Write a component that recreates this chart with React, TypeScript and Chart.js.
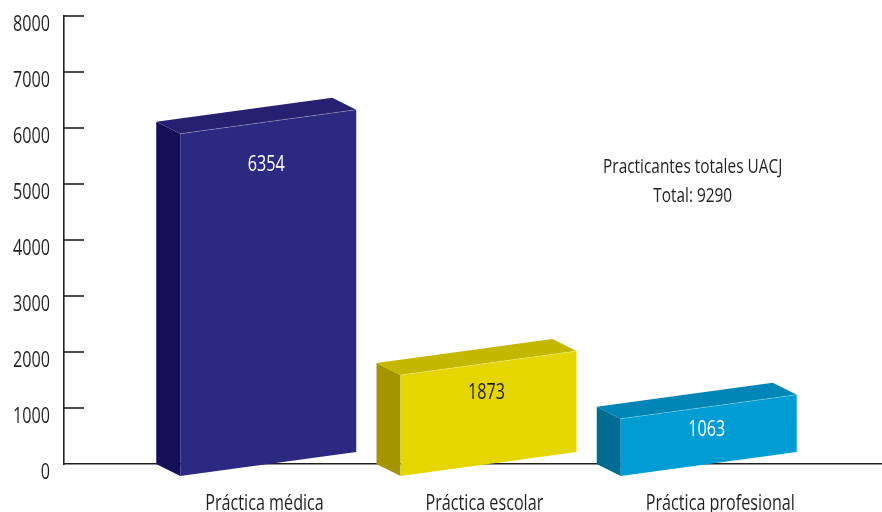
import React, { useEffect, useRef } from "react";
import { Chart, registerables } from "chart.js";

Chart.register(...registerables);

// ---------- data ----------
const categories = ["Práctica médica", "Práctica escolar", "Práctica profesional"];
const values = [6354, 1873, 1063];
const yTickValues = [0, 1000, 2000, 3000, 4000, 5000, 6000, 7000, 8000];
const noteTitle = "Practicantes totales UACJ";
const noteTotalPrefix = "Total: ";

// ---------- styles ----------
const FONT = '"Open Sans", "Noto Sans", "DejaVu Sans", sans-serif';
const SX = 0.77; // horizontal condensing of the text
const INK = "#231f20";
const faceColors = [
  { front: "#2b2a80", side: "#150f58", top: "#25206f", label: "#ffffff" },
  { front: "#e5d600", side: "#a29500", top: "#c4b700", label: "#231f20" },
  { front: "#009dd4", side: "#006b93", top: "#0086b6", label: "#ffffff" },
];
const SIDE = 24; // depth in x
const SKEW = 12; // front lower than back
const TILT = 24; // right side higher than left
const HEIGHT_SCALE = 0.962;
const X_MIN = 0.12727;
const X_MAX = 3.8409;

function drawText(ctx: CanvasRenderingContext2D, text: string, x: number, y: number, align: CanvasTextAlign, size: number, color: string) {
  ctx.save();
  ctx.translate(x, y);
  ctx.scale(SX, 1);
  ctx.font = `${size}px ${FONT}`;
  ctx.fillStyle = color;
  ctx.textAlign = align;
  ctx.textBaseline = "alphabetic";
  ctx.fillText(text, 0, 0);
  ctx.restore();
}

const boxPlugin = {
  id: "box3d",
  afterDatasetsDraw(chart: any) {
    const ctx = chart.ctx;
    const yScale = chart.scales.y;
    const xScale = chart.scales.x;
    const area = chart.chartArea;

    // inward tick marks and labels on the y axis
    ctx.save();
    ctx.strokeStyle = INK;
    ctx.lineWidth = 1.6;
    yTickValues.forEach((v) => {
      const py = yScale.getPixelForValue(v);
      if (v !== 0) {
        ctx.beginPath();
        ctx.moveTo(area.left, py);
        ctx.lineTo(area.left + 20, py);
        ctx.stroke();
      }
      drawText(ctx, String(v), area.left - 14, py + 15.2, "right", 21, INK);
    });
    ctx.restore();

    // category labels
    categories.forEach((c, i) => {
      const px = xScale.getPixelForValue(i + 1);
      drawText(ctx, c, px - 51, area.bottom + 45.5, "left", 21, INK);
    });

    const meta = chart.getDatasetMeta(0);
    meta.data.forEach((el: any, i: number) => {
      const { x, y, base, width } = el.getProps(["x", "y", "base", "width"], true);
      const c = faceColors[i % faceColors.length];
      const H = (base - y) * HEIGHT_SCALE;
      const L = x - width / 2;
      const R = L + width;
      const blb = [L, base];
      const blt = [L, base - H];
      const flt = [L + SIDE, base + SKEW - H];
      const flb = [L + SIDE, base + SKEW];
      const frt = [R, base + SKEW - TILT - H];
      const frb = [R, base + SKEW - TILT];
      const brt = [R - SIDE, base - TILT - H];
      const poly = (pts: number[][], fill: string) => {
        ctx.beginPath();
        ctx.moveTo(pts[0][0], pts[0][1]);
        for (let k = 1; k < pts.length; k++) ctx.lineTo(pts[k][0], pts[k][1]);
        ctx.closePath();
        ctx.fillStyle = fill;
        ctx.fill();
      };
      ctx.save();
      poly([blt, flt, flb, blb], c.side);
      poly([blt, brt, frt, flt], c.top);
      poly([flt, frt, frb, flb], c.front);
      ctx.strokeStyle = "rgba(255,255,255,0.3)";
      ctx.lineWidth = 0.8;
      ctx.beginPath();
      ctx.moveTo(flt[0], flt[1]);
      ctx.lineTo(frt[0], frt[1]);
      ctx.stroke();
      ctx.restore();

      // value label
      const lx = x + 10;
      const frac = (lx - flt[0]) / (frt[0] - flt[0]);
      const topAt = flt[1] + (frt[1] - flt[1]) * frac;
      const ly = topAt + 11.24 * Math.log(Math.max(H, 20)) - 23.9;
      drawText(ctx, String(values[i]), lx, ly + 7.5, "center", 21, c.label);
    });

    // note
    const total = values.reduce((a, b) => a + b, 0);
    drawText(ctx, noteTitle, 692.7, 172.7, "center", 20, INK);
    drawText(ctx, noteTotalPrefix + total, 692.7, 202.4, "center", 20, INK);
  },
};

export default function App() {
  const ref = useRef<HTMLCanvasElement | null>(null);
  useEffect(() => {
    if (!ref.current) return;
    const chart = new Chart(ref.current, {
      type: "bar",
      data: {
        datasets: [
          {
            data: values.map((v, i) => ({ x: i + 1, y: v })),
            backgroundColor: "rgba(0,0,0,0)",
            borderWidth: 0,
            barThickness: 200,
          },
        ],
      },
      options: {
        animation: false,
        responsive: false,
        devicePixelRatio: 1,
        layout: { padding: { top: 16, left: 0, right: 0, bottom: 0 } },
        plugins: { legend: { display: false }, tooltip: { enabled: false } },
        scales: {
          x: {
            type: "linear",
            min: X_MIN,
            max: X_MAX,
            offset: false,
            bounds: "data",
            grid: { display: false, drawTicks: false },
            border: { display: true, color: INK, width: 1.6 },
            afterDataLimits: (scale: any) => {
              scale.min = X_MIN;
              scale.max = X_MAX;
            },
            afterBuildTicks: (scale: any) => {
              scale.ticks = categories.map((_, i) => ({ value: i + 1 }));
              scale.min = X_MIN;
              scale.max = X_MAX;
            },
            afterFit: (scale: any) => {
              scale.height = 48;
            },
            ticks: { display: false },
          },
          y: {
            min: 0,
            max: 8000,
            grid: { display: false, drawTicks: false },
            border: { display: true, color: INK, width: 1.6 },
            afterBuildTicks: (scale: any) => {
              scale.ticks = yTickValues.map((v) => ({ value: v }));
            },
            afterFit: (scale: any) => {
              scale.width = 64;
            },
            ticks: { display: false },
          },
        },
      },
      plugins: [boxPlugin],
    });
    return () => chart.destroy();
  }, []);
  return (
    <div style={{ position: "absolute", left: 0, top: 0, width: 882, height: 512, background: "#fff" }}>
      <canvas ref={ref} width={882} height={512} style={{ display: "block" }} />
    </div>
  );
}
